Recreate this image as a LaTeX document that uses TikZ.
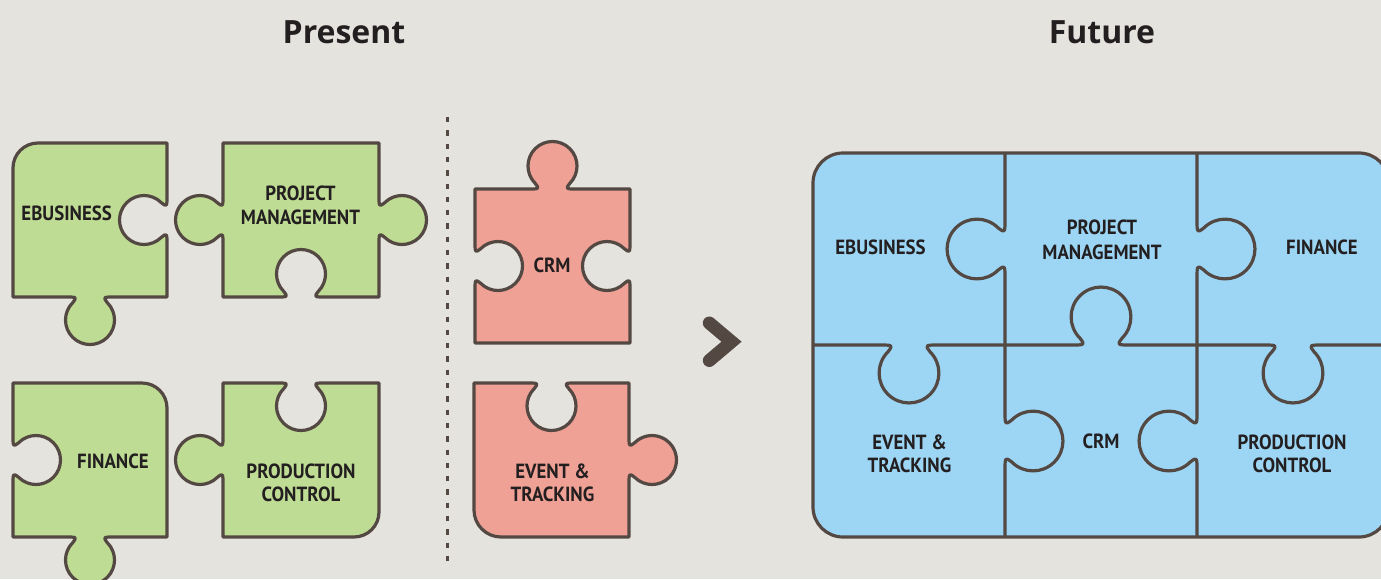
\documentclass[tikz,border=0pt]{standalone}
\usepackage{fontspec}
\setmainfont{PT Sans}
\newfontfamily\titlefont{Open Sans}
\newfontfamily\labelfont[FakeStretch=0.92]{PT Sans}
\definecolor{bgc}{HTML}{E4E3DE}
\definecolor{pzgreen}{HTML}{BFDC94}
\definecolor{pzred}{HTML}{F0A196}
\definecolor{pzblue}{HTML}{9DD6F4}
\definecolor{edgec}{HTML}{544843}
\definecolor{inkc}{HTML}{231F20}
% One puzzle tab on an edge: #1,#2 = edge midpoint, #3 = travel direction (deg),
% #4 = +1 for a knob, -1 for a socket, #5 = scale.
\newcommand{\pzltab}[5]{%
 -- ({#1-25*(#5)*cos(#3)},{#2-25*(#5)*sin(#3)})
 .. controls ({#1-13*(#5)*cos(#3)},{#2-13*(#5)*sin(#3)}) ..
 ({#1+23*(#4)*(#5)*sin(#3)+24.5*(#5)*cos(#3+180-45*(#4))},{#2-23*(#4)*(#5)*cos(#3)+24.5*(#5)*sin(#3+180-45*(#4))})
 arc[start angle={#3+180-45*(#4)}, end angle={#3+180+225*(#4)}, radius={24.5*(#5)}]
 .. controls ({#1+13*(#5)*cos(#3)},{#2+13*(#5)*sin(#3)}) ..
 ({#1+25*(#5)*cos(#3)},{#2+25*(#5)*sin(#3)})}
\tikzset{
 piece/.style={draw=edgec, line width=3.2pt, line join=round},
 lbl/.style={text=inkc, font=\labelfont\fontsize{20.5}{24}\selectfont\bfseries, anchor=base, inner sep=0pt},
 ttl/.style={text=inkc, font=\titlefont\fontsize{32}{38}\selectfont\bfseries, anchor=base, inner sep=0pt}
}
\begin{document}
\begin{tikzpicture}[x=1pt,y=-1pt]
\fill[bgc] (0,0) rectangle (1381,579);
\useasboundingbox (0,0) rectangle (1381,579);
\begin{scope}
\clip (0,0) rectangle (1381,579);
% titles
\node[ttl] (tpres) at (344,43) {Present};
\node[ttl] (tfut) at (1102,43) {Future};

% present: green pieces
\path[piece, fill=pzgreen] (13,168) arc[start angle=180, end angle=270, radius=25]
 -- (167,143) \pzltab{167}{220}{90}{-1}{1} -- (167,297) \pzltab{90}{297}{180}{1}{1} -- (13,297) -- cycle;
\path[piece, fill=pzgreen] (223,143) -- (379,143) \pzltab{379}{220}{90}{1}{1} -- (379,297)
 \pzltab{301}{297}{180}{-1}{1} -- (223,297) \pzltab{223}{220}{270}{1}{1} -- cycle;
\path[piece, fill=pzgreen] (13,383) -- (142,383) arc[start angle=270, end angle=360, radius=25]
 -- (167,537) \pzltab{90}{537}{180}{1}{1} -- (13,537) \pzltab{13}{460}{270}{-1}{1} -- cycle;
\path[piece, fill=pzgreen] (223,383) \pzltab{301}{383}{0}{-1}{1} -- (379,383) -- (379,512)
 arc[start angle=0, end angle=90, radius=25] -- (223,537) \pzltab{223}{460}{270}{1}{1} -- cycle;

% present: red pieces
\path[piece, fill=pzred] (475,189) \pzltab{552.5}{189}{0}{1}{1} -- (630,189) \pzltab{630}{266}{90}{-1}{1}
 -- (630,343) -- (475,343) \pzltab{475}{266}{270}{-1}{1} -- cycle;
\path[piece, fill=pzred] (474,383) \pzltab{551.5}{383}{0}{-1}{1} -- (629,383) \pzltab{629}{460}{90}{1}{1}
 -- (629,537) -- (501,537) arc[start angle=90, end angle=180, radius=27] -- cycle;

% labels, present
\node[lbl] (p1) at (66.7,220) {EBUSINESS};
\node[lbl] (p2a) at (300.5,200.5) {PROJECT};
\node[lbl] (p2b) at (300.5,224.5) {MANAGEMENT};
\node[lbl] (p3) at (113,468) {FINANCE};
\node[lbl] (p4a) at (301,478) {PRODUCTION};
\node[lbl] (p4b) at (301,501) {CONTROL};
\node[lbl] (p5) at (552,272) {CRM};
\node[lbl] (p6a) at (552.5,478) {EVENT \&};
\node[lbl] (p6b) at (552.5,501.5) {TRACKING};

% divider and chevron
\draw[edgec, line width=3pt, dash pattern=on 5.3pt off 8pt] (447.3,117) -- (447.3,567);
\draw[edgec, line width=13pt, line cap=round, line join=miter] (709.3,323) -- (731.5,341.7) -- (709.3,360.5);

% future: assembled puzzle
\path[piece, fill=pzblue, rounded corners=30pt] (813,153) rectangle (1389,537);
\path[piece] (1005,153) \pzltab{1005}{249}{90}{-1}{1.22} -- (1005,345) \pzltab{1005}{441}{90}{1}{1.22} -- (1005,537);
\path[piece] (1197,153) \pzltab{1197}{249}{90}{1}{1.22} -- (1197,345) \pzltab{1197}{441}{90}{-1}{1.22} -- (1197,537);
\path[piece] (813,345) \pzltab{909}{345}{0}{-1}{1.22} \pzltab{1101}{345}{0}{1}{1.22} \pzltab{1293}{345}{0}{-1}{1.22} -- (1389,345);

% labels, future
\node[lbl] (f1) at (880.5,254) {EBUSINESS};
\node[lbl] (f2a) at (1102,234.5) {PROJECT};
\node[lbl] (f2b) at (1102,259) {MANAGEMENT};
\node[lbl] (f3) at (1322,254) {FINANCE};
\node[lbl] (f4a) at (909.5,449) {EVENT \&};
\node[lbl] (f4b) at (909.5,472) {TRACKING};
\node[lbl] (f5) at (1101,448) {CRM};
\node[lbl] (f6a) at (1292,449) {PRODUCTION};
\node[lbl] (f6b) at (1292,472) {CONTROL};
\end{scope}
\end{tikzpicture}
\end{document}
